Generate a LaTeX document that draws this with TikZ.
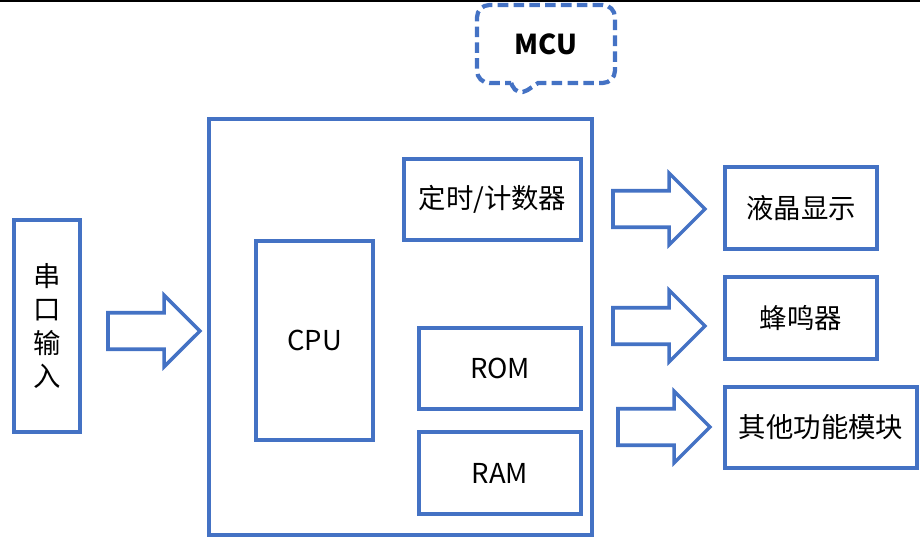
\documentclass[tikz,border=0pt]{standalone}
\usepackage{fontspec}
\setmainfont{Noto Sans CJK SC}
\usetikzlibrary{shapes.arrows, shapes.callouts}
\usepackage{xcolor}
\definecolor{bBlue}{HTML}{4472C4}
\tikzset{
  box/.style={draw=bBlue, line width=2pt, align=center, inner sep=0pt,
              font=\fontsize{15.6}{18.8}\selectfont},
  fatarrow/.style={single arrow, draw=bBlue, line width=2pt, anchor=tail,
              inner xsep=0pt, inner ysep=0.33cm, outer sep=0pt,
              minimum height=1.84cm, minimum width=1.36cm,
              single arrow head extend=0.35cm},
  tagbox/.style={rectangle callout, draw=bBlue, line width=2.4pt,
              dash pattern=on 6pt off 3pt, rounded corners=7pt,
              minimum width=2.76cm, minimum height=1.56cm,
              callout pointer width=0.54cm,
              font=\fontsize{15.6}{18.8}\selectfont\bfseries},
}

\begin{document}
\begin{tikzpicture}[x=0.02cm, y=-0.02cm]
\useasboundingbox (0,0) rectangle (920,537);
\fill[black] (0,0) rectangle (920,2);

% MCU block
\node[box, minimum width=7.66cm, minimum height=8.32cm] (mcu) at (400.5, 327) {};
\node[tagbox, callout absolute pointer={(517,97)}] (tag) at (546, 44) {MCU};
\node[box, minimum width=3.54cm, minimum height=1.62cm] (timer) at (492.5, 199.5) {定时/计数器};
\node[box, minimum width=2.34cm, minimum height=3.98cm] (cpu) at (314.5, 340.5) {CPU};
\node[box, minimum width=3.24cm, minimum height=1.62cm] (rom) at (500, 368.5) {ROM};
\node[box, minimum width=3.24cm, minimum height=1.64cm] (ram) at (500, 473) {RAM};

% Input
\node[box, minimum width=1.32cm, minimum height=4.24cm] (serial) at (47, 326) {串\\口\\输\\入};
\node[fatarrow] (arrin) at (108, 331) {};

% Outputs
\node[box, minimum width=3.04cm, minimum height=1.64cm] (lcd) at (801, 208) {液晶显示};
\node[box, minimum width=3.04cm, minimum height=1.64cm] (buzzer) at (801, 318) {蜂鸣器};
\node[box, minimum width=3.84cm, minimum height=1.62cm] (other) at (821, 427.5) {其他功能模块};
\node[fatarrow] (arrlcd) at (613, 209) {};
\node[fatarrow] (arrbuzzer) at (613, 326) {};
\node[fatarrow] (arrother) at (618, 427) {};

\end{tikzpicture}
\end{document}
